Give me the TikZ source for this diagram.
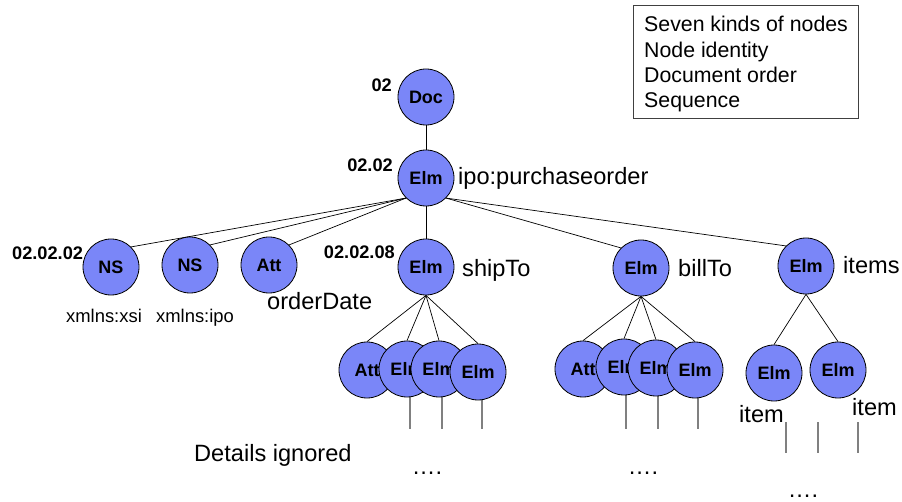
\documentclass[tikz,border=0pt]{standalone}
\usepackage{fontspec}
\setmainfont{Liberation Sans}
\usetikzlibrary{backgrounds}
\definecolor{nodefill}{RGB}{122,134,248}
\definecolor{hanggray}{RGB}{128,128,128}
\begin{document}
\begin{tikzpicture}[x=1pt,y=-1pt,
  tn/.style={circle, draw=black, line width=0.8pt, fill=nodefill, minimum size=56pt, inner sep=0pt, font=\bfseries\fontsize{18}{20}\selectfont},
  lbl/.style={inner sep=0pt, font=\fontsize{23.6}{27}\selectfont},
  num/.style={inner sep=0pt, font=\bfseries\fontsize{18.2}{21}\selectfont},
  sml/.style={inner sep=0pt, font=\fontsize{18.4}{21}\selectfont},
  leg/.style={inner sep=0pt, font=\fontsize{21.3}{25}\selectfont},
  edge/.style={draw=black, line width=0.7pt},
  hang/.style={draw=hanggray, line width=1.8pt}]
\useasboundingbox (0,0) rectangle (902,502);

% main tree nodes
\node[tn] (doc) at (426,97) {Doc};
\node[tn] (po) at (426,178) {Elm};
\node[tn] (ns1) at (111,267) {NS};
\node[tn] (ns2) at (190,265) {NS};
\node[tn] (att) at (269,265) {Att};
\node[tn] (ship) at (426,267) {Elm};
\node[tn] (bill) at (641,268) {Elm};
\node[tn] (items) at (806,266) {Elm};

% shipTo children
\node[tn] (sa) at (367,370) {Att};
\node[tn] (s1) at (407,369) {Elm};
\node[tn] (s2) at (439,369) {Elm};
\node[tn] (s3) at (478,372) {Elm};

% billTo children
\node[tn] (ba) at (583,369) {Att};
\node[tn] (b1) at (624,367) {Elm};
\node[tn] (b2) at (656,368) {Elm};
\node[tn] (b3) at (695,370) {Elm};

% items children
\node[tn] (i1) at (774,373) {Elm};
\node[tn] (i2) at (838,370) {Elm};

% hanging line end points
\coordinate (s1a) at (410,396); \coordinate (s1b) at (410,429);
\coordinate (s2a) at (442,396); \coordinate (s2b) at (442,429);
\coordinate (s3a) at (482,398); \coordinate (s3b) at (482,429);
\coordinate (b1a) at (626,394); \coordinate (b1b) at (626,429);
\coordinate (b2a) at (658,395); \coordinate (b2b) at (658,429);
\coordinate (b3a) at (698,397); \coordinate (b3b) at (698,429);
\coordinate (i1a) at (786,422); \coordinate (i1b) at (786,453);
\coordinate (i2a) at (818,422); \coordinate (i2b) at (818,453);
\coordinate (i3a) at (858,422); \coordinate (i3b) at (858,453);

\begin{pgfonlayer}{background}
  \draw[edge] (doc.south) -- (po.north);
  \draw[edge] (po.south west) -- (ns1.north east);
  \draw[edge] (po.south west) -- (ns2.north east);
  \draw[edge] (po.south west) -- (att.north east);
  \draw[edge] (po.south) -- (ship.north);
  \draw[edge] (po.south east) -- (bill.north west);
  \draw[edge] (po.south east) -- (items.north west);
  \draw[edge] (ship.south) -- (sa.north);
  \draw[edge] (ship.south) -- (s1.north);
  \draw[edge] (ship.south) -- (s2.north);
  \draw[edge] (ship.south) -- (s3.north);
  \draw[edge] (bill.south) -- (ba.north);
  \draw[edge] (bill.south) -- (b1.north);
  \draw[edge] (bill.south) -- (b2.north);
  \draw[edge] (bill.south) -- (b3.north);
  \draw[edge] (items.south) -- (i1.north);
  \draw[edge] (items.south) -- (i2.north);
  \draw[hang] (s1a) -- (s1b);
  \draw[hang] (s2a) -- (s2b);
  \draw[hang] (s3a) -- (s3b);
  \draw[hang] (b1a) -- (b1b);
  \draw[hang] (b2a) -- (b2b);
  \draw[hang] (b3a) -- (b3b);
  \draw[hang] (i1a) -- (i1b);
  \draw[hang] (i2a) -- (i2b);
  \draw[hang] (i3a) -- (i3b);
\end{pgfonlayer}

% numeric labels
\node[num, anchor=base east] (l02) at (392,92) {02};
\node[num, anchor=base east] (l0202) at (393,172) {02.02};
\node[num, anchor=base west] (l020202) at (12,260) {02.02.02};
\node[num, anchor=base east] (l020208) at (395,259) {02.02.08};

% text labels
\node[lbl, anchor=base west] (tpo) at (458,185) {ipo:purchaseorder};
\node[lbl, anchor=base west] (tship) at (462,277) {shipTo};
\node[lbl, anchor=base west] (tbill) at (678,277) {billTo};
\node[lbl, anchor=base west] (titems) at (843,274) {items};
\node[lbl, anchor=base west] (tod) at (267,310) {orderDate};
\node[sml, anchor=base west] (txsi) at (66,323) {xmlns:xsi};
\node[sml, anchor=base west] (tipo) at (156,323) {xmlns:ipo};
\node[lbl, anchor=base west] (tdet) at (194,461) {Details ignored};
\node[lbl, anchor=base west] (item1) at (739,422) {item};
\node[lbl, anchor=base west] (item2) at (852,415) {item};
\node[lbl, anchor=base] (dots1) at (427,474) {….};
\node[lbl, anchor=base] (dots2) at (643,474) {….};
\node[lbl, anchor=base] (dots3) at (803,497) {….};

% legend
\node[draw=black!75, line width=0.8pt, anchor=north west, minimum width=225pt, minimum height=113pt, inner sep=0pt] (legend) at (633,5) {};
\node[leg, anchor=base west] (leg1) at (644,32) {Seven kinds of nodes};
\node[leg, anchor=base west] (leg2) at (644,57.5) {Node identity};
\node[leg, anchor=base west] (leg3) at (644,83) {Document order};
\node[leg, anchor=base west] (leg4) at (644,108) {Sequence};
\end{tikzpicture}
\end{document}
